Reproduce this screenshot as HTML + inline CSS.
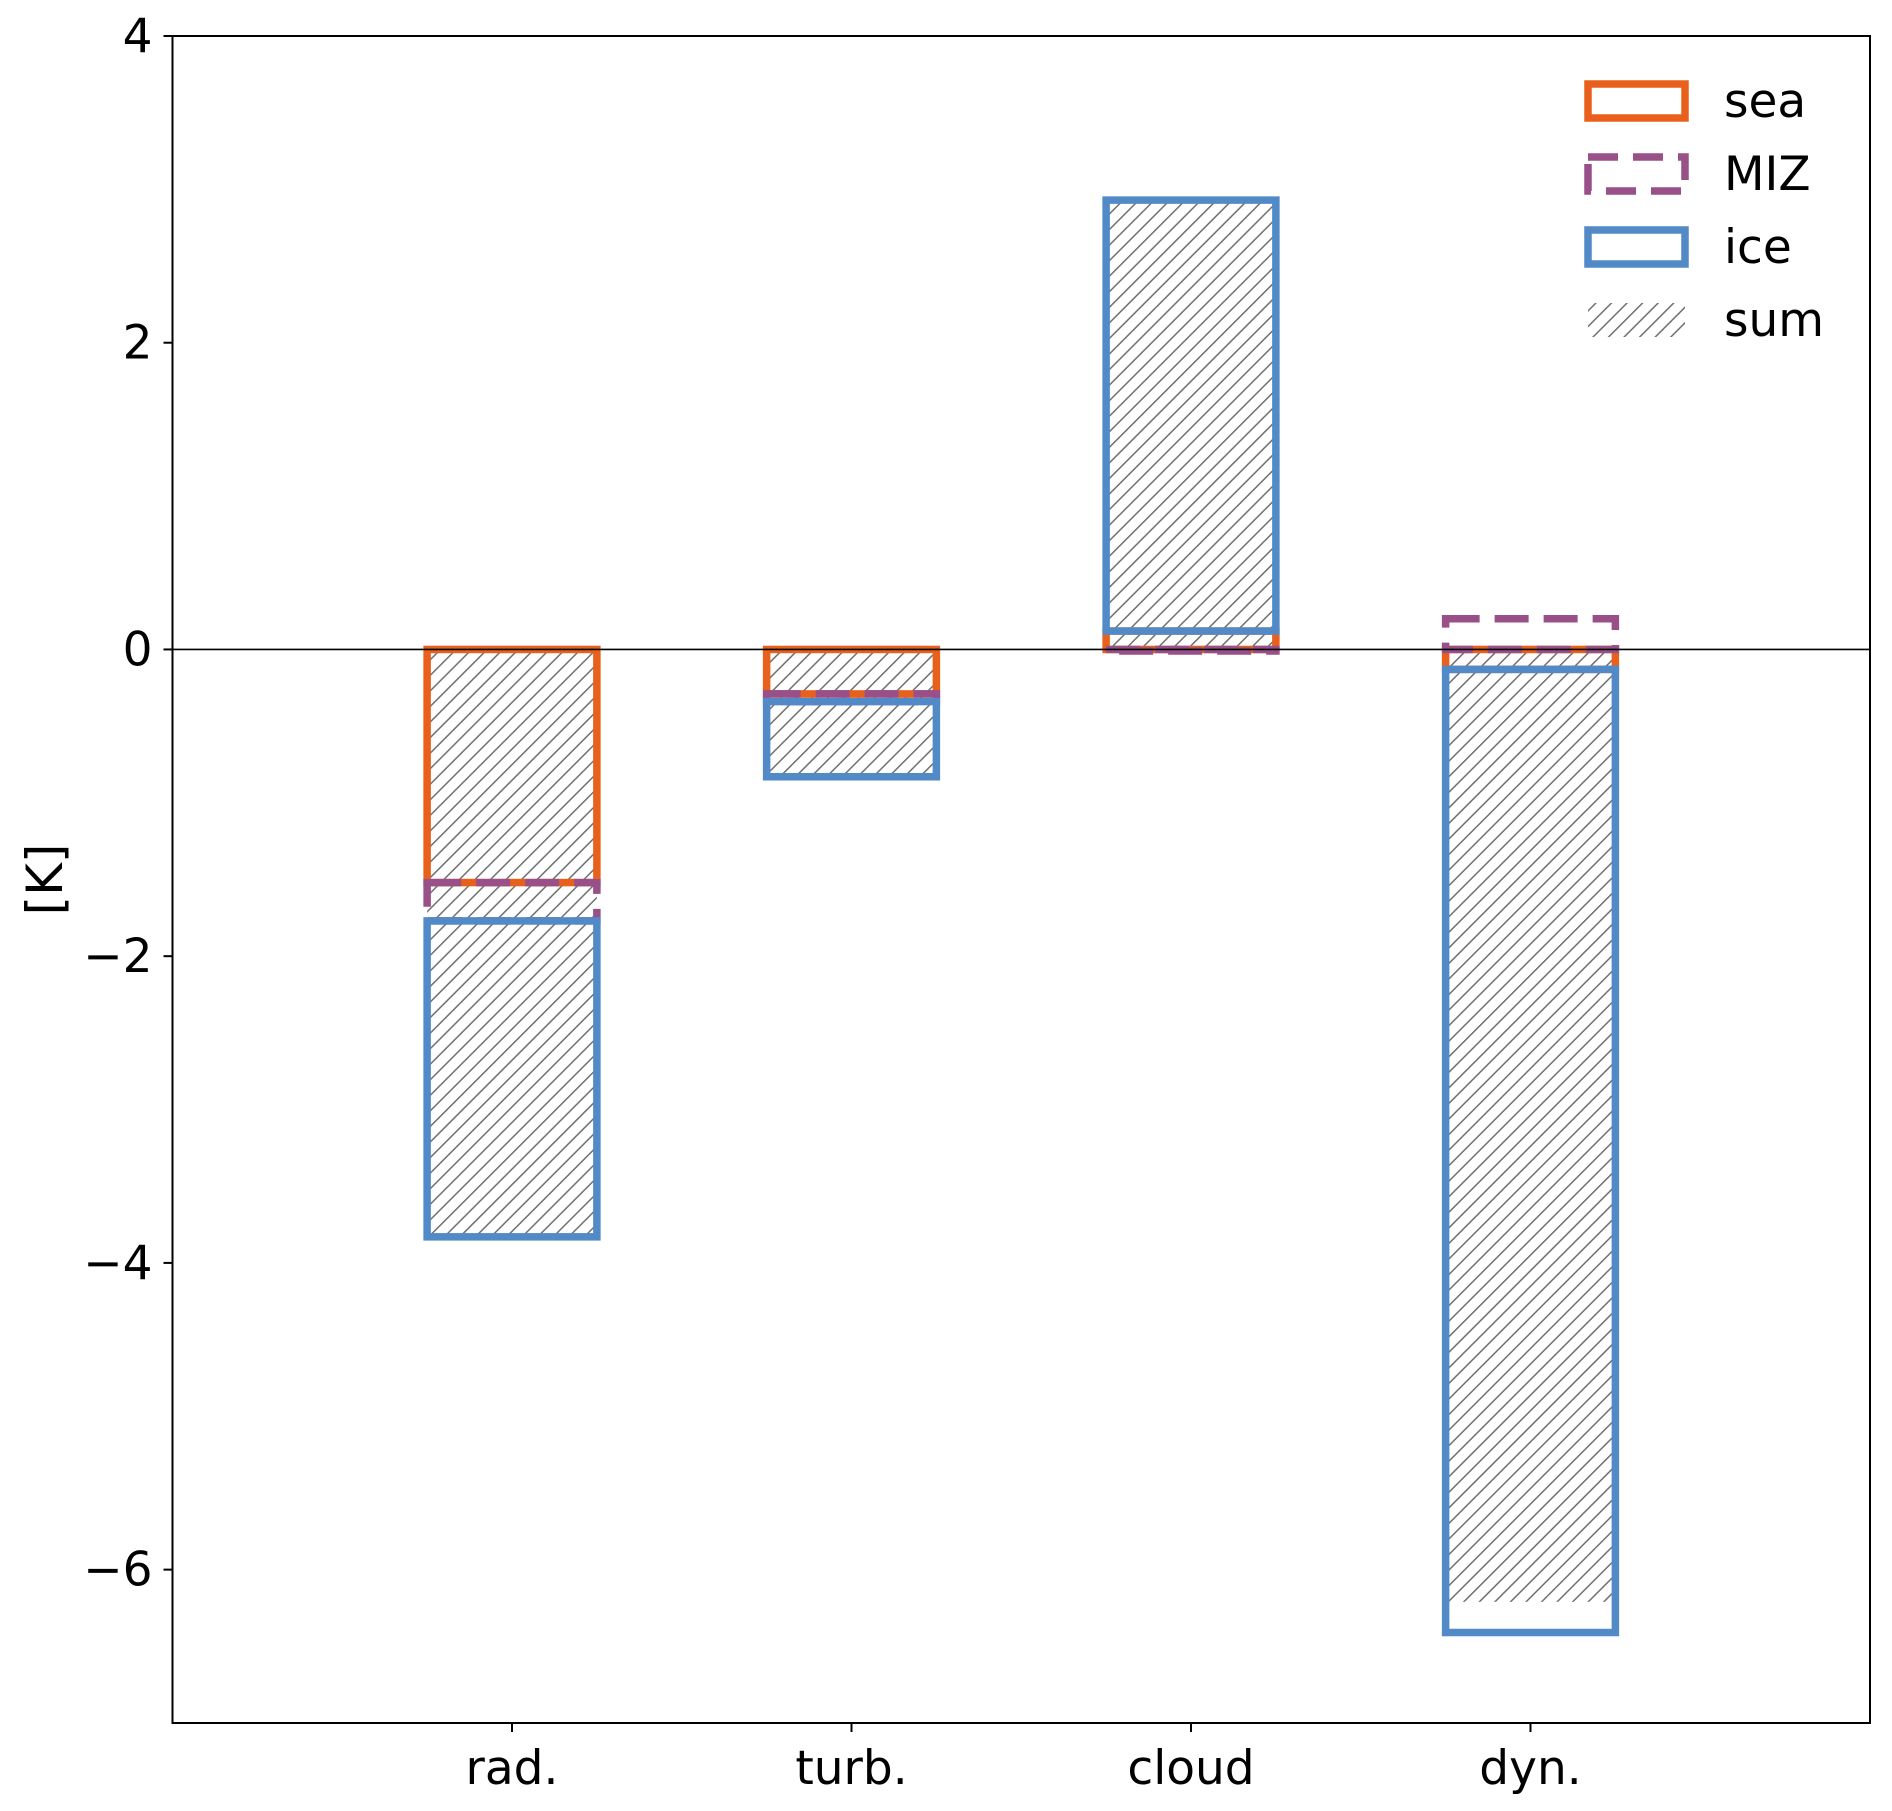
<!DOCTYPE html>
<html><head><meta charset="utf-8"><style>
html,body{margin:0;padding:0;background:#fff;}
svg{display:block;font-family:"DejaVu Sans","Liberation Sans",sans-serif;}
</style></head><body>
<svg id="chart" width="1892" height="1811" viewBox="0 0 1892 1811" xmlns="http://www.w3.org/2000/svg">
<defs>
<pattern id="hatch" patternUnits="userSpaceOnUse" width="11" height="11" patternTransform="rotate(45)">
<line x1="0" y1="0" x2="0" y2="11" stroke="#707070" stroke-width="3"/>
</pattern>
</defs>
<g id="plot"></g>
</svg>
<script>
const categories = ["rad.", "turb.", "cloud", "dyn."];
const seaValues = [-1.52, -0.29, 0.12, -0.13];
const mizValues = [-0.25, -0.05, -0.01, 0.2];
const iceValues = [-2.06, -0.49, 2.81, -6.28];
const yTicks = [4, 2, 0, -2, -4, -6];
const yTickLabels = ["4", "2", "0", "\u22122", "\u22124", "\u22126"];

const L = 172.5, R = 1870, T = 36, B = 1723;
const xMin = -1, xMax = 4, yMin = -7, yMax = 4;
const xs = v => L + (v - xMin) / (xMax - xMin) * (R - L);
const ys = v => T + (yMax - v) / (yMax - yMin) * (B - T);
const barW = 0.5;
const NS = "http://www.w3.org/2000/svg";
const g = document.getElementById('plot');
function mk(tag, attrs, parent) {
  const e = document.createElementNS(NS, tag);
  for (const k in attrs) e.setAttribute(k, attrs[k]);
  (parent || g).appendChild(e);
  return e;
}
categories.forEach((c, i) => {
  const total = seaValues[i] + mizValues[i] + iceValues[i];
  const r = mk('rect', {x: xs(i - barW/2), y: ys(Math.max(0, total)), width: xs(barW) - xs(0), height: Math.abs(ys(total) - ys(0)), fill: 'url(#hatch)', stroke: 'none'});
  
  
});
const series = [
  {name: 'sea', vals: seaValues, color: '#e8601c', dash: null},
  {name: 'miz', vals: mizValues, color: '#994f88', dash: '34 15'},
  {name: 'ice', vals: iceValues, color: '#5289c7', dash: null}
];
const posBase = categories.map(() => 0), negBase = categories.map(() => 0);
series.forEach(s => {
  categories.forEach((c, i) => {
    const v = s.vals[i];
    let b0, b1;
    if (v >= 0) { b0 = posBase[i]; b1 = b0 + v; posBase[i] = b1; }
    else { b0 = negBase[i]; b1 = b0 + v; negBase[i] = b1; }
    const attrs = {x: xs(i - barW/2), y: ys(Math.max(b0, b1)), width: xs(barW) - xs(0), height: Math.abs(ys(b1) - ys(b0)), fill: 'none', stroke: s.color, 'stroke-width': 7.5};
    if (s.dash) attrs['stroke-dasharray'] = s.dash;
    const r = mk('rect', attrs);
    
    
  });
});
const zl = mk('line', {x1: L, x2: R, y1: ys(0), y2: ys(0), stroke: '#000', 'stroke-width': 1.6});


const fr = mk('rect', {x: L, y: T, width: R - L, height: B - T, fill: 'none', stroke: '#000', 'stroke-width': 2});


yTicks.forEach((v, i) => {
  const t = mk('line', {x1: L - 9, x2: L, y1: ys(v), y2: ys(v), stroke: '#000', 'stroke-width': 2});
  
  
  const tx = mk('text', {x: L - 20, y: ys(v) + 16, 'text-anchor': 'end', 'font-size': 47, fill: '#000'});
  tx.textContent = yTickLabels[i];
  
  
});
categories.forEach((c, i) => {
  const t = mk('line', {x1: xs(i), x2: xs(i), y1: B, y2: B + 9, stroke: '#000', 'stroke-width': 2});
  
  
  const tx = mk('text', {x: xs(i), y: B + 61, 'text-anchor': 'middle', 'font-size': 47, fill: '#000'});
  tx.textContent = c;
  
  
});
const yt = mk('text', {x: 0, y: 0, 'text-anchor': 'middle', 'font-size': 50, fill: '#000', transform: 'translate(62,' + ((T + B) / 2) + ') rotate(-90)'});
yt.textContent = '[K]';


const legend = mk('g', {});


const legItems = [
  {label: 'sea', color: '#e8601c', dash: null, cy: 101},
  {label: 'MIZ', color: '#994f88', dash: '30 15', cy: 174},
  {label: 'ice', color: '#5289c7', dash: null, cy: 247},
  {label: 'sum', color: null, dash: null, cy: 320}
];
legItems.forEach(it => {
  let p;
  if (it.color) {
    const a = {x: 1588, y: it.cy - 17, width: 97, height: 34, fill: 'none', stroke: it.color, 'stroke-width': 7.5};
    if (it.dash) a['stroke-dasharray'] = it.dash;
    p = mk('rect', a, legend);
  } else {
    p = mk('rect', {x: 1588, y: it.cy - 17, width: 97, height: 34, fill: 'url(#hatch)'}, legend);
  }
  
  
  const tx = mk('text', {x: 1724, y: it.cy + 16, 'font-size': 47, fill: '#000'}, legend);
  tx.textContent = it.label;
  
  
});
</script>
</body></html>
